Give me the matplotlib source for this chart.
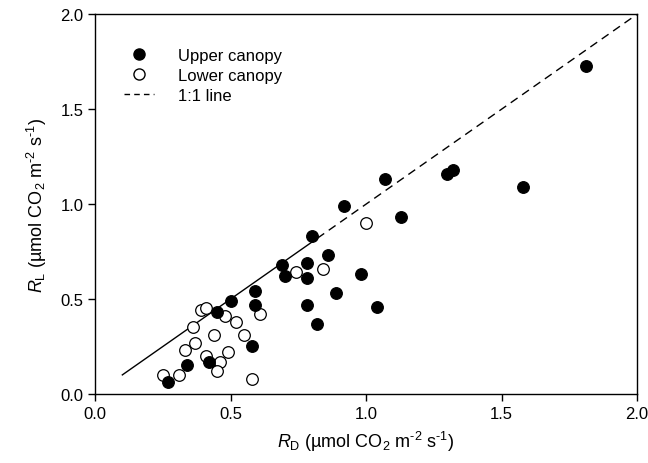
import matplotlib
matplotlib.use("Agg")
import matplotlib.pyplot as plt
from matplotlib.lines import Line2D

plt.rcParams['font.family'] = ['Liberation Sans', 'DejaVu Sans']
plt.rcParams['mathtext.fontset'] = 'custom'
plt.rcParams['mathtext.rm'] = 'Liberation Sans'
plt.rcParams['mathtext.it'] = 'Liberation Sans:italic'

upper_rd = [1.81, 1.58, 1.32, 1.30, 1.13, 1.07, 1.04, 0.98, 0.92, 0.89, 0.86, 0.80, 0.82,
            0.78, 0.78, 0.78, 0.69, 0.70, 0.59, 0.59, 0.58, 0.50, 0.45, 0.42, 0.34, 0.27]
upper_rl = [1.73, 1.09, 1.18, 1.16, 0.93, 1.13, 0.46, 0.63, 0.99, 0.53, 0.73, 0.83, 0.37,
            0.69, 0.61, 0.47, 0.68, 0.62, 0.54, 0.47, 0.25, 0.49, 0.43, 0.17, 0.15, 0.06]

lower_rd = [1.00, 0.84, 0.74, 0.39, 0.41, 0.48, 0.61, 0.52, 0.36, 0.55, 0.44, 0.37, 0.33,
            0.49, 0.41, 0.46, 0.45, 0.25, 0.31, 0.58]
lower_rl = [0.90, 0.66, 0.64, 0.44, 0.45, 0.41, 0.42, 0.38, 0.35, 0.31, 0.31, 0.27, 0.23,
            0.22, 0.20, 0.17, 0.12, 0.10, 0.10, 0.08]

line_solid = [0.1, 0.82]
line_dashed = [0.82, 2.0]

fig = plt.figure(figsize=(6.48, 4.64), dpi=100)
ax = fig.add_axes([0.147, 0.149, 0.836, 0.818])

ax.plot(line_solid, line_solid, color='black', lw=1.0, zorder=1)
ax.plot(line_dashed, line_dashed, color='black', lw=1.0, ls=(0, (6, 4)), zorder=1)

ax.scatter(lower_rd, lower_rl, s=70, facecolor='white', edgecolor='black', linewidth=0.9, zorder=2)
ax.scatter(upper_rd, upper_rl, s=70, facecolor='black', edgecolor='black', linewidth=0.9, zorder=3)

ax.set_xlim(0, 2.0)
ax.set_ylim(0, 2.0)
ax.set_xticks([0.0, 0.5, 1.0, 1.5, 2.0])
ax.set_yticks([0.0, 0.5, 1.0, 1.5, 2.0])
ax.set_xticklabels(['0.0', '0.5', '1.0', '1.5', '2.0'])
ax.set_yticklabels(['0.0', '0.5', '1.0', '1.5', '2.0'])
ax.tick_params(direction='out', length=5, labelsize=12, width=1)
for s in ax.spines.values():
    s.set_linewidth(1.0)

unit = '(µmol CO$_2$ m$^{\u2010 2}$ s$^{\u2010 1}$)'
ax.set_xlabel(r'$\mathit{R}_\mathrm{D}$ ' + unit, fontsize=13, labelpad=6)
ax.set_ylabel(r'$\mathit{R}_\mathrm{L}$ ' + unit, fontsize=13, labelpad=8)

handles = [
    Line2D([], [], marker='o', ls='none', markerfacecolor='black', markeredgecolor='black', markersize=8),
    Line2D([], [], marker='o', ls='none', markerfacecolor='white', markeredgecolor='black', markersize=8),
    Line2D([], [], color='black', lw=1.0, ls=(0, (4, 3))),
]
ax.legend(handles, ['Upper canopy', 'Lower canopy', '1:1 line'], loc='upper left',
          bbox_to_anchor=(0.026, 0.95), frameon=False, fontsize=12, handlelength=1.75,
          labelspacing=0.3, handletextpad=1.45)

fig.savefig('out.png', dpi=100)
